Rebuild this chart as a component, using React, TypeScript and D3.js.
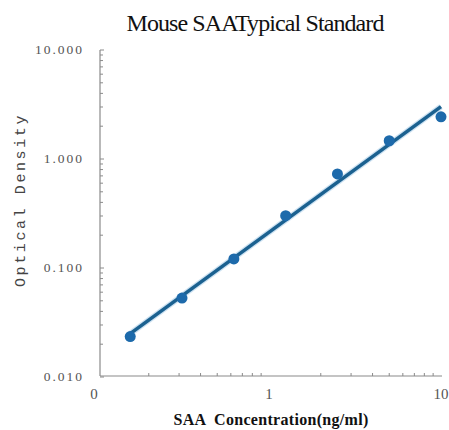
import React from "react";
import * as d3 from "d3";

// standard curve points (ng/ml vs OD)
const concentrations = [0.156, 0.312, 0.625, 1.25, 2.5, 5, 10];
const odValues = [0.0235, 0.053, 0.121, 0.302, 0.73, 1.47, 2.44];

const yMajorTicks = [0.01, 0.1, 1, 10];
const xMajorTicks = [0.1, 1, 10];
const xTickLabels = ["0", "1", "10"];

const title = "Mouse SAATypical Standard";
const xTitle = "SAA  Concentration(ng/ml)";
const yTitle = "Optical Density";

const width = 449;
const height = 430;

const serif = "Liberation Serif, Times New Roman, serif";

export default function App() {
  const x = d3.scaleLog([0.1, 10], [97, 441]);
  const y = d3.scaleLog([0.01, 10], [377, 50]);

  // minor ticks from the log scales
  const yMinor = y.ticks().filter((t) => !yMajorTicks.some((m) => Math.abs(m - t) / m < 1e-6));
  const xMinor = x.ticks().filter((t) => !xMajorTicks.some((m) => Math.abs(m - t) / m < 1e-6));

  // linear fit in log-log space
  const lx = concentrations.map(Math.log10);
  const ly = odValues.map(Math.log10);
  const mx = d3.mean(lx)!;
  const my = d3.mean(ly)!;
  const slope = d3.sum(lx, (v, i) => (v - mx) * (ly[i] - my)) / d3.sum(lx, (v) => (v - mx) ** 2);
  const fit = (c: number) => Math.pow(10, my + slope * (Math.log10(c) - mx));
  const fitEnds = [concentrations[0], concentrations[concentrations.length - 1]];
  const line = d3.line<number>((c) => x(c), (c) => y(fit(c)));

  const axisColor = "#8a8a8a";
  const fmt = d3.format(".3f");
  const axisX = 100;
  const axisY = 376;

  return (
    <svg width={width} height={height} style={{ position: "absolute", left: 0, top: 0, background: "#fff" }}>
      <text x={255} y={31} textAnchor="middle" fontFamily={serif} fontSize={24}
        letterSpacing={-0.9} fill="#111">{title}</text>

      {/* y axis */}
      <line x1={axisX} x2={axisX} y1={50} y2={axisY} stroke={axisColor} strokeWidth={1.2} />
      {yMinor.map((t, i) => (
        <line key={"ym" + i} x1={axisX} x2={axisX + 3} y1={y(t)} y2={y(t)} stroke={axisColor} strokeWidth={1} />
      ))}
      {yMajorTicks.map((t, i) => (
        <g key={"yM" + i}>
          <line x1={axisX} x2={axisX + 4} y1={y(t)} y2={y(t)} stroke={axisColor} strokeWidth={1} />
          <text x={84} y={y(t) + 4} textAnchor="end" fontFamily={serif} fontSize={13.5}
            letterSpacing={2} fill="#555">{fmt(t)}</text>
        </g>
      ))}

      {/* x axis */}
      <line x1={axisX} x2={442} y1={axisY} y2={axisY} stroke={axisColor} strokeWidth={1.2} />
      {xMinor.map((t, i) => (
        <line key={"xm" + i} x1={x(t)} x2={x(t)} y1={axisY} y2={axisY - 3} stroke={axisColor} strokeWidth={1} />
      ))}
      {xMajorTicks.map((t, i) => (
        <text key={"xM" + i} x={x(t) - (i === 0 ? 3 : 0)} y={399} textAnchor="middle"
          fontFamily={serif} fontSize={15} fill="#555">{xTickLabels[i]}</text>
      ))}

      <text x={271} y={425} textAnchor="middle" fontFamily={serif} fontSize={16}
        fontWeight="bold" letterSpacing={0.3} fill="#111" style={{ whiteSpace: "pre" }}>{xTitle}</text>

      <text transform={`translate(25,200) rotate(-90)`} textAnchor="middle"
        fontFamily="Liberation Mono, Courier New, monospace" fontSize={15} letterSpacing={2.6} fill="#444">{yTitle}</text>

      {/* fit line and points */}
      <path d={line(fitEnds)!} fill="none" stroke="#9cc6e6" strokeWidth={6} strokeOpacity={0.5} />
      <path d={line(fitEnds)!} fill="none" stroke="#1b6190" strokeWidth={3.5} />
      {concentrations.map((c, i) => (
        <circle key={i} cx={x(c)} cy={y(odValues[i])} r={5.5} fill="#1d6aab" />
      ))}
    </svg>
  );
}
